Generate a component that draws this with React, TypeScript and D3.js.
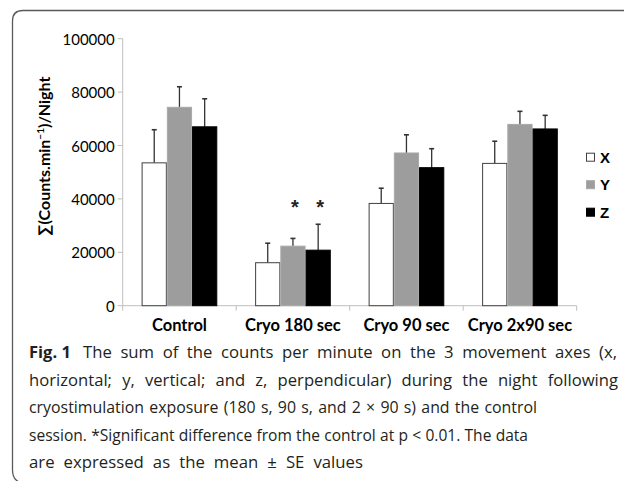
import * as d3 from "d3";
import { useEffect, useRef } from "react";

const categories = ["Control", "Cryo 180 sec", "Cryo 90 sec", "Cryo 2x90 sec"];
const seriesNames = ["X", "Y", "Z"];
const xMeans = [53500, 16100, 38300, 53300];
const xSE = [12400, 7300, 5700, 8300];
const yMeans = [74300, 22300, 57200, 67900];
const ySE = [7700, 2900, 6800, 4900];
const zMeans = [67000, 20800, 51700, 66200];
const zSE = [10500, 9700, 7100, 5100];
const yTicks = [0, 20000, 40000, 60000, 80000, 100000];
// significance marks: [category index, series index]
const stars = [
  [1, 1],
  [1, 2],
];
const starLevel = 38500;

const captionLines = [
  "The sum of the counts per minute on the 3 movement axes (x,",
  "horizontal; y, vertical; and z, perpendicular) during the night following",
  "cryostimulation exposure (180 s, 90 s, and 2 × 90 s) and the control",
  "session. *Significant difference from the control at p < 0.01. The data",
  "are expressed as the mean ± SE values",
];
// target right edge of every caption line
const captionEnds = [617, 618, 537, 528, 363];

const means = [xMeans, yMeans, zMeans];
const errs = [xSE, ySE, zSE];
const fills = ["#ffffff", "#9d9d9d", "#000000"];
const strokes = ["#404040", "#a8a8a8", "#000000"];

export default function App() {
  const capRef = useRef<SVGGElement>(null);

  const left = 122.7;
  const right = 576.7;
  const top = 38.7;
  const bottom = 305.7;

  const x0 = d3.scaleBand().domain(categories).range([left, right]).padding(0);
  const x1 = d3
    .scaleBand()
    .domain(seriesNames)
    .range([0, x0.bandwidth()])
    .paddingInner(0)
    .paddingOuter(0.75);
  const y = d3.scaleLinear().domain([0, 100000]).range([bottom, top]);

  const chartFont = "Lato, 'Open Sans', sans-serif";
  const captionFont = "'Open Sans', 'Noto Sans', sans-serif";
  const bounds = [...categories.map((c) => x0(c) as number), right];
  const lineStart = (i: number) => (i === 0 ? 83 : 29);

  // fit the caption lines to the widths seen in the figure
  useEffect(() => {
    if (!capRef.current) return;
    d3.select(capRef.current)
      .selectAll<SVGTextElement, unknown>("text.cap")
      .each(function (_, i) {
        const el = d3.select(this);
        const natural = this.getComputedTextLength();
        const target = captionEnds[i] - lineStart(i);
        const spaces = captionLines[i].split(" ").length - 1;
        if (target > natural) {
          // part word gaps, part glyph scaling
          el.attr("word-spacing", (0.55 * (target - natural)) / spaces);
        }
        el.attr("textLength", target).attr("lengthAdjust", "spacingAndGlyphs");
      });
  }, []);

  return (
    <svg
      width={624}
      height={481}
      style={{ position: "absolute", left: 0, top: 0, background: "#fff" }}
    >
      {/* frame */}
      <path
        d="M 624 10.5 H 23 Q 12.5 10.5 12.5 21 V 470 Q 12.5 479 19 482"
        fill="none"
        stroke="#5a5a5a"
        strokeWidth={1.3}
      />

      {/* y axis */}
      <line x1={left} x2={left} y1={top} y2={bottom} stroke="#bfbfbf" />
      {yTicks.map((t) => (
        <g key={t}>
          <line x1={left - 5} x2={left} y1={y(t)} y2={y(t)} stroke="#bfbfbf" />
          <text
            x={left - 8}
            y={y(t)}
            textAnchor="end"
            dominantBaseline="central"
            fontFamily={chartFont}
            fontSize={15}
            fill="#000"
          >
            {t}
          </text>
        </g>
      ))}

      {/* x axis */}
      <line x1={left} x2={right} y1={bottom} y2={bottom} stroke="#bfbfbf" />
      {bounds.map((b, i) => (
        <line key={i} x1={b} x2={b} y1={bottom} y2={bottom + 5} stroke="#bfbfbf" />
      ))}
      {categories.map((c) => (
        <text
          key={c}
          x={(x0(c) as number) + x0.bandwidth() / 2}
          y={331}
          textAnchor="middle"
          fontFamily={chartFont}
          fontWeight="bold"
          fontSize={16.5}
          fill="#000"
        >
          {c}
        </text>
      ))}

      {/* bars */}
      {seriesNames.map((s, si) => (
        <g key={s}>
          {categories.map((c, ci) => {
            const bx = (x0(c) as number) + (x1(s) as number);
            const w = x1.bandwidth();
            const v = means[si][ci];
            const e = v + errs[si][ci];
            const cx = bx + w / 2;
            return (
              <g key={c}>
                <line x1={cx} x2={cx} y1={y(v)} y2={y(e)} stroke="#333" strokeWidth={1.3} />
                <line x1={cx - 2.5} x2={cx + 2.5} y1={y(e)} y2={y(e)} stroke="#333" strokeWidth={1.6} />
                <rect
                  x={bx + 0.5}
                  y={y(v)}
                  width={w - 1}
                  height={bottom - y(v)}
                  fill={fills[si]}
                  stroke={strokes[si]}
                  strokeWidth={1}
                />
              </g>
            );
          })}
        </g>
      ))}

      {/* significance stars */}
      {stars.map(([ci, si], i) => (
        <text
          key={i}
          x={(x0(categories[ci]) as number) + (x1(seriesNames[si]) as number) + x1.bandwidth() / 2 + 2}
          y={y(starLevel) + 11}
          textAnchor="middle"
          fontFamily="'Liberation Sans', Arial, sans-serif"
          fontWeight="bold"
          fontSize={20}
          fill="#222"
        >
          *
        </text>
      ))}

      {/* y axis title */}
      <text
        transform="translate(50,156) rotate(-90)"
        textAnchor="middle"
        fontFamily={chartFont}
        fontWeight="bold"
        fontSize={16}
        fill="#000"
      >
        ∑(Counts.min
        <tspan fontSize={10} dy={-6}>
          −1
        </tspan>
        <tspan dy={6}>)/Night</tspan>
      </text>

      {/* legend */}
      {seriesNames.map((s, i) => (
        <g key={s} transform={`translate(586,${152.7 + i * 27.5})`}>
          <rect x={0.5} y={0.5} width={8} height={8} fill={fills[i]} stroke={strokes[i]} />
          <text
            x={14}
            y={4.5}
            dominantBaseline="central"
            fontFamily="'Liberation Sans', Arial, sans-serif"
            fontWeight="bold"
            fontSize={15}
            fill="#000"
          >
            {s}
          </text>
        </g>
      ))}

      {/* caption */}
      <g ref={capRef}>
        <text x={29} y={358} fontFamily={captionFont} fontWeight="bold" fontSize={16.5} fill="#231f20">
          Fig. 1
        </text>
        {captionLines.map((line, i) => (
          <text
            key={i}
            className="cap"
            x={lineStart(i)}
            y={358 + i * 27.5}
            fontFamily={captionFont}
            fontSize={15.5}
            fill="#231f20"
          >
            {line}
          </text>
        ))}
      </g>
    </svg>
  );
}
